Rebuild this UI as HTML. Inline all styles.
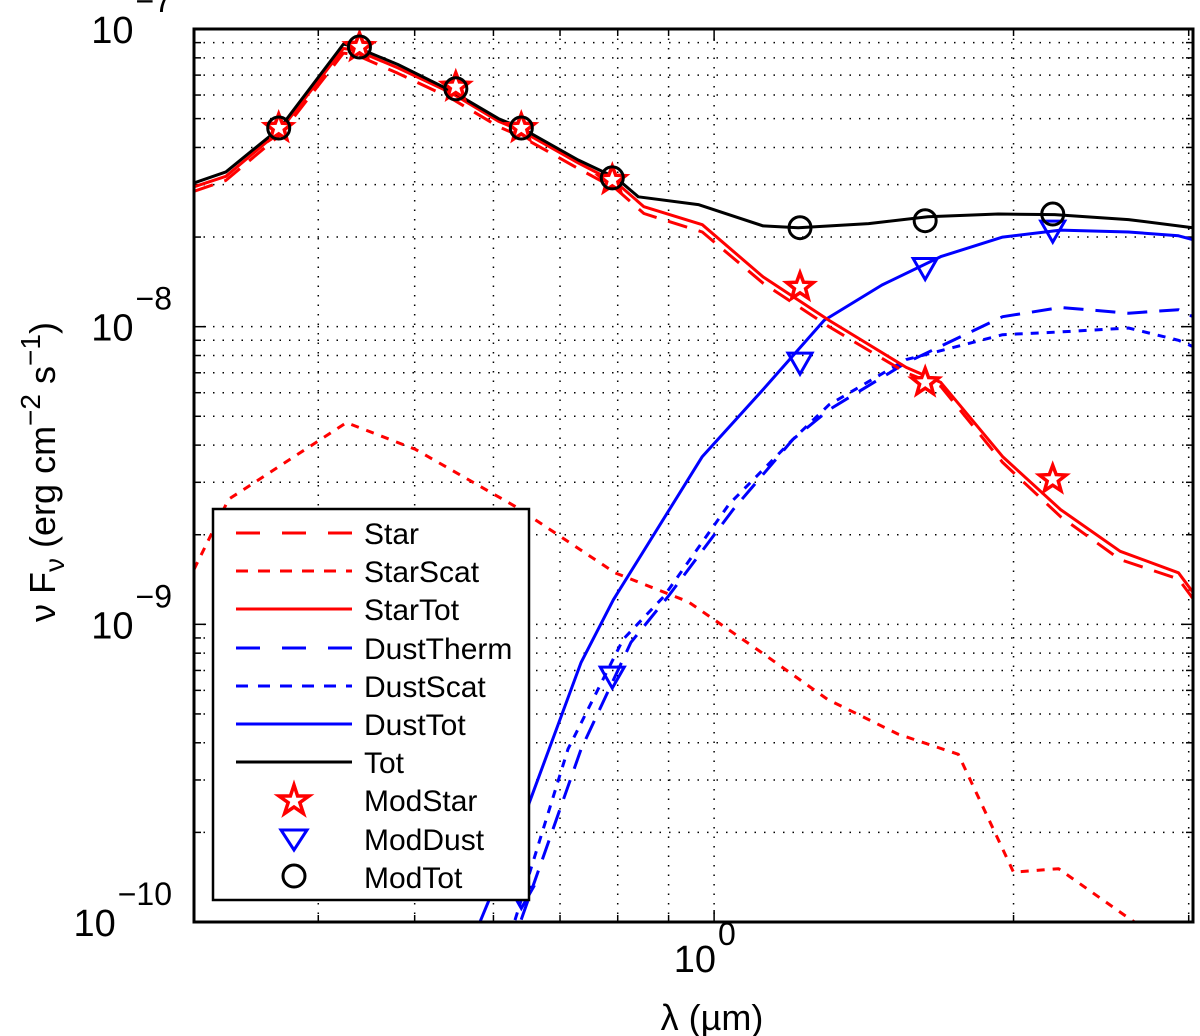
<!DOCTYPE html>
<html><head><meta charset="utf-8"><style>
html,body{margin:0;padding:0;background:#fff;}
svg{display:block;font-family:"Liberation Sans",Arial,sans-serif;}
</style></head><body>
<svg id="chart" width="1200" height="1036" viewBox="0 0 1200 1036"></svg>
<script>
const xTicksMinor = [0.3,0.4,0.5,0.6,0.7,0.8,0.9,1,2,3];
const yDecades = [-10,-9,-8,-7];
const yTickLabels = ["10","10","10","10"];
const yTickExps = ["−10","−9","−8","−7"];

const starLam = [0.30,0.323,0.366,0.424,0.436,0.481,0.544,0.607,0.64,0.73,0.797,0.85,0.973,1.12,1.305,1.56,1.69,1.95,2.23,2.56,2.93,3.03];
const starVal = [2.85e-8,3.1e-8,4.4e-8,8.3e-8,8.2e-8,7.1e-8,5.85e-8,4.7e-8,4.35e-8,3.4e-8,2.9e-8,2.4e-8,2.08e-8,1.4e-8,1.0e-8,7.0e-9,6.3e-9,3.5e-9,2.3e-9,1.65e-9,1.42e-9,1.22e-9];
const starTotVal = [2.95e-8,3.2e-8,4.55e-8,8.6e-8,8.5e-8,7.4e-8,6.1e-8,4.9e-8,4.55e-8,3.55e-8,3.05e-8,2.53e-8,2.2e-8,1.47e-8,1.05e-8,7.3e-9,6.5e-9,3.66e-9,2.43e-9,1.76e-9,1.49e-9,1.28e-9];
const starScatLam = [0.30,0.325,0.427,0.501,0.631,0.795,0.942,1.107,1.30,1.53,1.76,2.0,2.22,2.58,2.8];
const starScatVal = [1.53e-9,2.63e-9,4.76e-9,3.87e-9,2.49e-9,1.49e-9,1.19e-9,8.2e-10,5.6e-10,4.28e-10,3.66e-10,1.47e-10,1.51e-10,1.06e-10,8.8e-11];
const dustThermLam = [0.60,0.64,0.735,0.825,0.899,1.045,1.20,1.305,1.56,1.95,2.23,2.61,2.93,3.03];
const dustThermVal = [5e-11,1.02e-10,3.81e-10,8.7e-10,1.24e-9,2.43e-9,4.18e-9,5.26e-9,7.57e-9,1.08e-8,1.16e-8,1.11e-8,1.14e-8,1.08e-8];
const dustScatLam = [0.59,0.631,0.713,0.81,0.89,1.035,1.20,1.305,1.56,1.95,2.23,2.61,2.93,3.03];
const dustScatVal = [5e-11,1.02e-10,3.81e-10,8.9e-10,1.24e-9,2.53e-9,4.18e-9,5.47e-9,7.75e-9,9.4e-9,9.6e-9,9.9e-9,9.0e-9,8.57e-9];
const dustTotLam = [0.55,0.583,0.65,0.735,0.792,0.973,1.12,1.29,1.475,1.69,1.95,2.23,2.61,2.93,3.03];
const dustTotVal = [6e-11,1.02e-10,2.45e-10,7.45e-10,1.21e-9,3.66e-9,6.15e-9,1.05e-8,1.38e-8,1.72e-8,2.0e-8,2.11e-8,2.08e-8,2.02e-8,1.96e-8];
const totLam = [0.30,0.323,0.366,0.424,0.436,0.481,0.544,0.607,0.64,0.73,0.797,0.839,0.964,1.12,1.215,1.43,1.64,1.93,2.2,2.61,3.03];
const totVal = [3.04e-8,3.31e-8,4.65e-8,8.9e-8,8.7e-8,7.6e-8,6.2e-8,5.0e-8,4.65e-8,3.63e-8,3.16e-8,2.73e-8,2.57e-8,2.18e-8,2.15e-8,2.22e-8,2.34e-8,2.39e-8,2.38e-8,2.29e-8,2.15e-8];
const bandLam = [0.365,0.44,0.55,0.64,0.79,1.22,1.63,2.19];
const modStarVal = [4.65e-8,8.7e-8,6.4e-8,4.65e-8,3.11e-8,1.36e-8,6.5e-9,3.07e-9];
const modDustVal = [null,null,null,1.22e-10,6.7e-10,7.6e-9,1.58e-8,2.11e-8];
const modTotVal = [4.65e-8,8.7e-8,6.3e-8,4.65e-8,3.16e-8,2.15e-8,2.27e-8,2.39e-8];

const L=194,R=1193,T=29,B=922;
const xMin=0.3,xMax=3.03,yMin=-10,yMax=-7;
const X=v=>L+(Math.log10(v)-Math.log10(xMin))/(Math.log10(xMax)-Math.log10(xMin))*(R-L);
const Y=v=>B-(Math.log10(v)-yMin)/(yMax-yMin)*(B-T);
const NS="http://www.w3.org/2000/svg";
const svg=document.getElementById('chart');
function mk(tag,attrs,parent){const e=document.createElementNS(NS,tag);for(const k in attrs)e.setAttribute(k,attrs[k]);(parent||svg).appendChild(e);return e;}

const defs=mk('defs',{});
const cp=mk('clipPath',{id:'clip'},defs);
mk('rect',{x:L,y:T,width:R-L,height:B-T},cp);

const grid=mk('g',{});


xTicksMinor.forEach(v=>{
  const x=X(v);
  const ln=mk('line',{x1:x,x2:x,y1:T,y2:B,stroke:'#000','stroke-width':1.5,'stroke-dasharray':'1.5,8'},grid);
  
  
  mk('line',{x1:x,x2:x,y1:B,y2:B-(v===1?12:7),stroke:'#000','stroke-width':1.5},grid);
  mk('line',{x1:x,x2:x,y1:T,y2:T+(v===1?12:7),stroke:'#000','stroke-width':1.5},grid);
});
yDecades.slice(0,3).forEach(d=>{
  for(let m=1;m<=9;m++){
    const v=m*Math.pow(10,d);
    const y=Y(v);
    const ln=mk('line',{x1:L,x2:R,y1:y,y2:y,stroke:'#000','stroke-width':1.5,'stroke-dasharray':'1.5,8'},grid);
    
    
    mk('line',{x1:L,x2:L+(m===1?12:7),y1:y,y2:y,stroke:'#000','stroke-width':1.5},grid);
    mk('line',{x1:R,x2:R-(m===1?12:7),y1:y,y2:y,stroke:'#000','stroke-width':1.5},grid);
  }
});

function line(lam,val,color,dash,name){
  const pts=lam.map((l,i)=>X(l).toFixed(1)+','+Y(val[i]).toFixed(1)).join(' ');
  const p=mk('polyline',{points:pts,fill:'none',stroke:color,'stroke-width':3,'stroke-dasharray':dash||'none','clip-path':'url(#clip)','stroke-linejoin':'round'});
  
  
}
line(starScatLam,starScatVal,'#ff0000','8,8','starscat-line');
line(dustThermLam,dustThermVal,'#0000ff','20,12','dusttherm-line');
line(dustScatLam,dustScatVal,'#0000ff','8,8','dustscat-line');
line(dustTotLam,dustTotVal,'#0000ff','','dusttot-line');
line(starLam,starVal,'#ff0000','20,12','star-line');
line(starLam,starTotVal,'#ff0000','','startot-line');
line(totLam,totVal,'#000000','','tot-line');

function starPath(cx,cy,r){let s='';for(let i=0;i<10;i++){const a=-Math.PI/2+i*Math.PI/5;const rr=i%2?r*0.42:r;s+=(i?'L':'M')+(cx+rr*Math.cos(a)).toFixed(1)+','+(cy+rr*Math.sin(a)).toFixed(1);}return s+'Z';}
function triPath(cx,cy,r){return `M${cx-r},${cy-r*0.75}L${cx+r},${cy-r*0.75}L${cx},${cy+r}Z`;}
bandLam.forEach((l,i)=>{
  const x=X(l);
  const p=mk('path',{d:starPath(x,Y(modStarVal[i]),14),fill:'#fff',stroke:'#ff0000','stroke-width':3.5,'clip-path':'url(#clip)'});
  
  
  if(modDustVal[i]!==null){
    const t=mk('path',{d:triPath(x,Y(modDustVal[i]),12),fill:'none',stroke:'#0000ff','stroke-width':3,'clip-path':'url(#clip)'});
    
    
  }
  const c=mk('circle',{cx:x,cy:Y(modTotVal[i]),r:11,fill:'none',stroke:'#000','stroke-width':3,'clip-path':'url(#clip)'});
  
  
});

const box=mk('rect',{x:L,y:T,width:R-L,height:B-T,fill:'none',stroke:'#000','stroke-width':3});



yDecades.forEach((d,i)=>{
  const y=Y(Math.pow(10,d));
  const e=mk('text',{x:172,y:y-17,'font-size':32,'text-anchor':'end'});
  e.textContent=yTickExps[i];
  
  
  const w=e.getComputedTextLength();
  const t=mk('text',{x:172-w-2,y:y+14,'font-size':38,'text-anchor':'end'});
  t.textContent=yTickLabels[i];
  
  
});
</script>
<div style="position:absolute;left:0;top:0;width:1200px;height:1036px;pointer-events:none;">
<svg width="1200" height="1036" style="position:absolute;left:0;top:0;font-family:'Liberation Sans',Arial,sans-serif;">
  <g>
    <text x="716" y="972" font-size="38" text-anchor="end">10</text>
    <text x="718" y="945" font-size="32">0</text>
  </g>
  <text x="712" y="1030" font-size="36" text-anchor="middle">λ (µm)</text>
  <g transform="translate(55,472) rotate(-90)">
    <text x="0" y="0" font-size="36" text-anchor="middle">ν F<tspan font-size="28" dy="9">ν</tspan><tspan dy="-9"> (erg cm</tspan><tspan font-size="28" dy="-15">−2</tspan><tspan dy="15"> s</tspan><tspan font-size="28" dy="-15">−1</tspan><tspan dy="15">)</tspan></text>
  </g>
  <g>
    <rect x="213" y="509" width="316" height="391" fill="#fff" stroke="#000" stroke-width="2.5"/>
    <g stroke-width="3" fill="none">
      <line x1="236" x2="352" y1="533" y2="533" stroke="#ff0000" stroke-dasharray="24,22"/>
      <line x1="236" x2="352" y1="571" y2="571" stroke="#ff0000" stroke-dasharray="12,10"/>
      <line x1="236" x2="352" y1="609" y2="609" stroke="#ff0000"/>
      <line x1="236" x2="352" y1="648" y2="648" stroke="#0000ff" stroke-dasharray="24,22"/>
      <line x1="236" x2="352" y1="686" y2="686" stroke="#0000ff" stroke-dasharray="12,10"/>
      <line x1="236" x2="352" y1="724" y2="724" stroke="#0000ff"/>
      <line x1="236" x2="352" y1="762" y2="762" stroke="#000"/>
      <path d="M294,785L297.6,796L309,796L299.8,802.6L303.4,813.5L294,807L284.6,813.5L288.2,802.6L279,796L290.4,796Z" stroke="#ff0000" stroke-width="3.5" fill="#fff"/>
      <path d="M281,830L307,830L294,850Z" stroke="#0000ff"/>
      <circle cx="294" cy="876" r="11" stroke="#000"/>
    </g>
    <g font-size="30" fill="#000">
      <text x="364" y="544">Star</text>
      <text x="364" y="582">StarScat</text>
      <text x="364" y="620">StarTot</text>
      <text x="364" y="659">DustTherm</text>
      <text x="364" y="697">DustScat</text>
      <text x="364" y="735">DustTot</text>
      <text x="364" y="773">Tot</text>
      <text x="364" y="811">ModStar</text>
      <text x="364" y="850">ModDust</text>
      <text x="364" y="888">ModTot</text>
    </g>
  </g>
</svg>
</div>
</body></html>
